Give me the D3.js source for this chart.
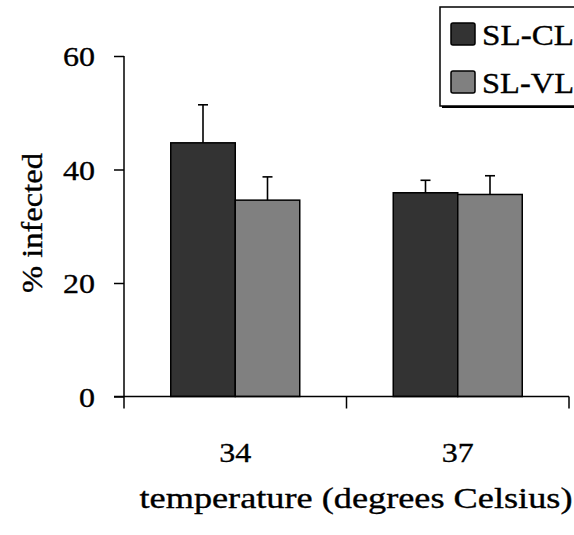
<!DOCTYPE html>
<html>
<head>
<meta charset="utf-8">
<script src="https://cdn.jsdelivr.net/npm/d3@7"></script>
<style>
  html, body { margin: 0; padding: 0; background: #fff; }
</style>
</head>
<body>
<svg id="chart" width="574" height="535"></svg>
<script>
// Infection rate by incubation temperature, two strains
const categories = ["34", "37"];
const seriesNames = ["SL-CL", "SL-VL"];
const slCL = [44.7, 35.9];
const slVL = [34.6, 35.6];
const slCLErr = [6.7, 2.2];
const slVLErr = [4.1, 3.3];
const yTicks = [0, 20, 40, 60];
const colors = ["#333333", "#808080"];

const FONT = "'Liberation Serif', 'Times New Roman', serif";
const svg = d3.select("#chart");
const plotL = 124, plotR = 569, plotT = 56, plotB = 396.5;

const x0 = d3.scaleBand().domain(categories).range([plotL, plotR]).paddingInner(0).paddingOuter(0);
const x1 = d3.scaleBand().domain(seriesNames).range([0, 129]);
const y = d3.scaleLinear().domain([0, 60]).range([plotB, plotT]);

function serif(sel, size) {
  return sel.style("font-family", FONT).style("font-size", size + "px")
    .attr("fill", "#000").attr("stroke", "#000").attr("stroke-width", 0.35);
}

const rows = categories.map((c, i) => ({
  cat: c,
  vals: [
    { s: seriesNames[0], v: slCL[i], e: slCLErr[i], color: colors[0] },
    { s: seriesNames[1], v: slVL[i], e: slVLErr[i], color: colors[1] }
  ]
}));

const groups = svg.selectAll("g.grp").data(rows).join("g")
  .attr("class", "grp")
  .attr("transform", d => `translate(${x0(d.cat) + (x0.bandwidth() - 129) / 2},0)`);

// error bars (upper only)
groups.selectAll("g.err").data(d => d.vals).join("g").attr("class", "err")
  .each(function(d) {
    const g = d3.select(this);
    const cx = x1(d.s) + x1.bandwidth() / 2;
    g.append("line").attr("x1", cx).attr("x2", cx)
      .attr("y1", y(d.v)).attr("y2", y(d.v + d.e))
      .attr("stroke", "#000").attr("stroke-width", 1.6);
    g.append("line").attr("x1", cx - 5).attr("x2", cx + 5)
      .attr("y1", y(d.v + d.e)).attr("y2", y(d.v + d.e))
      .attr("stroke", "#000").attr("stroke-width", 1.6);
  });

// bars
groups.selectAll("rect").data(d => d.vals).join("rect")
  .attr("x", d => x1(d.s))
  .attr("width", x1.bandwidth())
  .attr("y", d => y(d.v))
  .attr("height", d => y(0) - y(d.v))
  .attr("fill", d => d.color)
  .attr("stroke", "#000")
  .attr("stroke-width", 1.5);

// y axis
const yAxis = svg.append("g").attr("transform", `translate(${plotL},0)`)
  .call(d3.axisLeft(y).tickValues(yTicks).tickSize(10).tickPadding(19).tickFormat(d3.format("d")));
yAxis.select(".domain").remove();
yAxis.selectAll(".tick line").attr("stroke", "#000").attr("stroke-width", 1.5);
yAxis.selectAll(".tick text")
  .call(serif, 28)
  .attr("dy", "0.35em")
  .attr("textLength", d => String(d).length * 16)
  .attr("lengthAdjust", "spacingAndGlyphs");
svg.append("line").attr("x1", plotL).attr("x2", plotL).attr("y1", plotT).attr("y2", plotB + 12)
  .attr("stroke", "#000").attr("stroke-width", 1.5);

// x axis: baseline with category-boundary ticks
svg.append("line").attr("x1", plotL - 10).attr("x2", plotR).attr("y1", plotB).attr("y2", plotB)
  .attr("stroke", "#000").attr("stroke-width", 1.5);
const bounds = [x0(categories[1]), plotR];
svg.selectAll("line.xtick").data(bounds).join("line").attr("class", "xtick")
  .attr("x1", d => d).attr("x2", d => d)
  .attr("y1", plotB).attr("y2", plotB + 12)
  .attr("stroke", "#000").attr("stroke-width", 1.5);

svg.selectAll("text.xlab").data(categories).join("text").attr("class", "xlab")
  .attr("x", d => x0(d) + x0.bandwidth() / 2)
  .attr("y", 462)
  .attr("text-anchor", "middle")
  .call(serif, 28)
  .attr("textLength", 32).attr("lengthAdjust", "spacingAndGlyphs")
  .text(d => d);

// axis titles
svg.append("text")
  .attr("x", 356).attr("y", 508)
  .attr("text-anchor", "middle")
  .call(serif, 30)
  .attr("textLength", 433).attr("lengthAdjust", "spacingAndGlyphs")
  .text("temperature (degrees Celsius)");

svg.append("text")
  .attr("transform", "translate(42,223) rotate(-90)")
  .attr("text-anchor", "middle")
  .call(serif, 30)
  .attr("textLength", 140).attr("lengthAdjust", "spacingAndGlyphs")
  .text("% infected");

// legend with drop shadow
const lg = svg.append("g");
lg.append("rect").attr("x", 442).attr("y", 9).attr("width", 150).attr("height", 99)
  .attr("fill", "#000");
lg.append("rect").attr("x", 440).attr("y", 7).attr("width", 150).attr("height", 99)
  .attr("fill", "#fff").attr("stroke", "#000").attr("stroke-width", 1.5);
const items = lg.selectAll("g.item").data(seriesNames).join("g").attr("class", "item")
  .attr("transform", (d, i) => `translate(0,${i * 48})`);
items.append("rect").attr("x", 451).attr("y", 23).attr("width", 24).attr("height", 22)
  .attr("rx", 2).attr("fill", (d, i) => colors[i]).attr("stroke", "#000").attr("stroke-width", 1.5);
items.append("text").attr("x", 482).attr("y", 45)
  .call(serif, 30)
  .attr("textLength", 92).attr("lengthAdjust", "spacingAndGlyphs")
  .text(d => d);
</script>
</body>
</html>
